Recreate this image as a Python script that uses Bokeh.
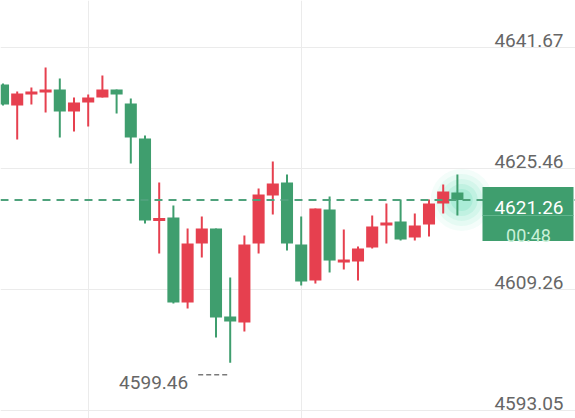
from bokeh.plotting import figure
from bokeh.models import Grid, FixedTicker, Label, Span, BoxAnnotation, ColumnDataSource
from bokeh.embed import file_html
from bokeh.resources import INLINE

# ---- data ----
opens = [4636.71, 4633.90, 4635.51, 4635.64, 4636.05, 4633.10, 4634.30, 4634.97,
         4636.05, 4634.17, 4629.48, 4618.50, 4618.90, 4607.52, 4615.42, 4617.43,
         4605.65, 4604.84, 4615.42, 4621.85, 4623.59, 4615.29, 4610.47, 4619.97,
         4613.01, 4613.01, 4614.89, 4617.83, 4618.37, 4616.22, 4617.97, 4620.78,
         4622.25]
highs = [4636.85, 4635.78, 4636.31, 4638.99, 4637.52, 4634.97, 4635.38, 4637.92,
         4636.05, 4634.84, 4629.88, 4623.59, 4620.51, 4617.43, 4619.04, 4617.43,
         4610.87, 4616.49, 4622.79, 4626.40, 4624.66, 4619.04, 4620.11, 4621.72,
         4617.30, 4615.02, 4619.17, 4620.78, 4621.31, 4619.44, 4621.31, 4623.32,
         4624.66]
lows = [4633.90, 4629.35, 4634.04, 4632.97, 4629.62, 4630.42, 4631.09, 4634.97,
        4632.83, 4626.13, 4618.10, 4614.08, 4607.39, 4606.72, 4613.55, 4602.83,
        4599.46, 4603.64, 4614.08, 4619.31, 4614.48, 4609.80, 4610.06, 4611.54,
        4611.94, 4610.47, 4614.75, 4615.42, 4615.82, 4615.82, 4616.36, 4619.44,
        4619.17]
closes = [4634.04, 4635.51, 4635.64, 4636.05, 4633.10, 4634.30, 4634.97, 4636.05,
          4635.38, 4629.62, 4618.50, 4618.77, 4607.52, 4615.42, 4617.43, 4605.51,
          4604.98, 4615.29, 4621.98, 4623.46, 4615.42, 4610.33, 4620.11, 4613.14,
          4613.14, 4614.75, 4617.70, 4618.23, 4615.96, 4617.83, 4620.78, 4622.39,
          4621.26]
price_ticks = [4641.67, 4625.46, 4609.26, 4593.05]
tick_labels = ["4641.67", "4625.46", "4609.26", "4593.05"]
vgrid_candles = [6, 21]
last_price = 4621.26
last_price_label = "4621.26"
countdown_label = "00:48"
low_label = "4599.46"

# ---- layout constants ----
W, H = 575, 418
X_STEP = 14.2        # px per candle
X0_PX = 2.5          # px of first candle centre
PX_PER_UNIT = 7.467  # px per price unit
TOP_TICK_PX = 47     # px of top grid line

RED = "#e6404f"
GREEN = "#3f9e6e"

n = len(opens)
idx = list(range(n))
x_range = (-X0_PX / X_STEP, (W - X0_PX) / X_STEP)
y_range = (price_ticks[0] - (H - TOP_TICK_PX) / PX_PER_UNIT,
           price_ticks[0] + TOP_TICK_PX / PX_PER_UNIT)

min_body = 3 / PX_PER_UNIT
body_top, body_bot, colors = [], [], []
for o, c in zip(opens, closes):
    t, b = max(o, c), min(o, c)
    if t - b < min_body:
        m = (t + b) / 2
        t, b = m + min_body / 2, m - min_body / 2
    body_top.append(t)
    body_bot.append(b)
    colors.append(RED if c >= o else GREEN)

src = ColumnDataSource(dict(idx=idx, high=highs, low=lows, top=body_top,
                            bot=body_bot, color=colors))

p = figure(width=W, height=H, x_range=x_range, y_range=y_range,
           x_axis_type=None, y_axis_type=None, toolbar_location=None,
           output_backend="svg", min_border=0, outline_line_color=None,
           background_fill_color="#ffffff", border_fill_color="#ffffff")
p.min_border_left = p.min_border_right = p.min_border_top = p.min_border_bottom = 0

p.add_layout(Grid(dimension=1, ticker=FixedTicker(ticks=price_ticks),
                  grid_line_color="#ebebeb", grid_line_width=1))
p.add_layout(Grid(dimension=0, ticker=FixedTicker(ticks=vgrid_candles),
                  grid_line_color="#ebebeb", grid_line_width=1))

# glow around the live candle
last = n - 1
for s, a in [(62, 0.05), (52, 0.07), (42, 0.09), (32, 0.12), (22, 0.15)]:
    p.scatter(x=[last + 0.3], y=[last_price], size=s, fill_color="#2fd0a0",
              fill_alpha=a, line_color=None)

p.segment(x0="idx", y0="high", x1="idx", y1="low", line_color="color",
          line_width=2, source=src)
p.vbar(x="idx", width=0.85, top="top", bottom="bot", fill_color="color",
       line_color=None, source=src)

# current price dashed line
p.add_layout(Span(location=last_price, dimension="width", line_color="#4fa27c",
                  line_dash="8 6", line_width=2))

# price labels
for t, lab in zip(price_ticks, tick_labels):
    p.add_layout(Label(x=563, x_units="screen", y=t, y_offset=7.5, text=lab,
                       text_align="right", text_baseline="alphabetic",
                       text_font="Roboto", text_font_size="19px",
                       text_color="#666666"))

# current price box
p.add_layout(BoxAnnotation(left=482, right=573, left_units="screen",
                           right_units="screen",
                           top=last_price + 13 / PX_PER_UNIT,
                           bottom=last_price - 41 / PX_PER_UNIT,
                           fill_color="#3f9e6e", fill_alpha=1, line_color=None))
p.add_layout(BoxAnnotation(left=482, right=573, left_units="screen",
                           right_units="screen",
                           top=last_price - 15 / PX_PER_UNIT,
                           bottom=last_price - 16 / PX_PER_UNIT,
                           fill_color="#62b58d", fill_alpha=1, line_color=None))
p.add_layout(Label(x=563, x_units="screen", y=last_price, y_offset=-7.5,
                   text=last_price_label, text_align="right",
                   text_baseline="alphabetic", text_font="Roboto",
                   text_font_size="19px", text_color="#ffffff"))
p.add_layout(Label(x=528, x_units="screen", y=last_price, y_offset=-35.5,
                   text=countdown_label, text_align="center",
                   text_baseline="alphabetic", text_font="Roboto",
                   text_font_size="18px", text_color="#c9f0d8"))

# lowest price marker
low_i = min(range(n), key=lambda i: lows[i])
low_v = lows[low_i]
p.add_layout(Label(x=low_i, y=low_v, x_offset=-42, y_offset=-20, text=low_label,
                   text_align="right", text_baseline="alphabetic",
                   text_font="Roboto", text_font_size="19px",
                   text_color="#666666"))
p.segment(x0=[low_i - 32 / X_STEP], y0=[low_v - 12 / PX_PER_UNIT],
          x1=[low_i - 3 / X_STEP], y1=[low_v - 12 / PX_PER_UNIT],
          line_color="#7a7a7a", line_width=1.5, line_dash="5 3")

open("out.html", "w").write(file_html(p, INLINE))
